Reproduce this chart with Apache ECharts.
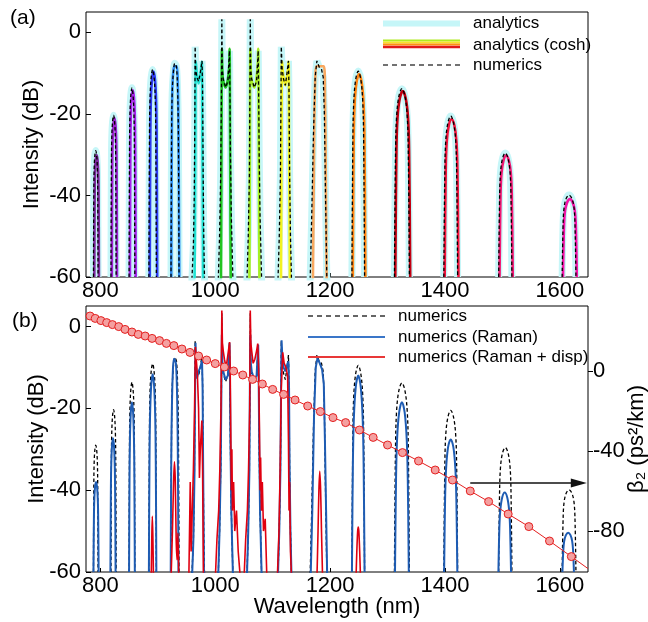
<!DOCTYPE html>
<html><head><meta charset="utf-8">
<script src="https://cdn.jsdelivr.net/npm/echarts@6/dist/echarts.min.js"></script>
<style>html,body{margin:0;padding:0;background:#fff}#c{width:648px;height:622px}</style>
</head><body><div id="c"></div>
<script>
// ---------- tick labels ----------
const xTicks = [800, 1000, 1200, 1400, 1600];
const dbTicks = [-60, -40, -20, 0];
const betaTicks = [-80, -40, 0];

// ---------- (a)/(b) numerics (dashed black), one array per pulse: [wavelength nm, dB] ----------
const numerics = [
  [[788,-60],[788.6,-38.9],[789.2,-33.3],[790.4,-30.2],[792,-29],[793.6,-30.2],[794.8,-33.3],[795.4,-38.9],[796,-60]],
  [[818.5,-60],[819.2,-33],[819.85,-25.9],[821.2,-21.9],[823,-20.3],[824.8,-21.9],[826.15,-25.9],[826.8,-33],[827.5,-60]],
  [[850,-60],[850.75,-28.4],[851.5,-20.1],[853,-15.5],[855,-13.6],[857,-15.5],[858.5,-20.1],[859.25,-28.4],[860,-60]],
  [[884.5,-60],[885.5,-25.4],[886.45,-16.2],[888.4,-11.1],[891,-9.1],[893.6,-11.1],[895.55,-16.2],[896.5,-25.4],[897.5,-60]],
  [[923,-60],[924,-24.4],[925.1,-14.9],[927.2,-9.7],[929.5,-7.6],[932.5,-8.5],[934.6,-14.9],[935.8,-24.4],[937,-60]],
  [[959,-62],[962,-52],[963.5,-40],[964.5,-20],[965,-3.5],[966,-9],[968,-11],[971,-12],[974,-10],[977,-7],[978,-14],[979,-35],[980,-50],[981.5,-62]],
  [[1005,-62],[1007.5,-50],[1009.5,-35],[1010.8,-15],[1011.5,3.2],[1012.3,-9],[1014,-11.5],[1018,-13.5],[1022,-12],[1024.8,-4.5],[1025.6,-15],[1026.5,-30],[1028,-45],[1031,-62]],
  [[1055,-62],[1057.5,-50],[1059.5,-35],[1060.3,-15],[1061,3.2],[1061.8,-9],[1063.5,-11.5],[1068,-13.5],[1072,-12],[1074.8,-4.5],[1075.6,-15],[1076.5,-30],[1078,-45],[1081,-62]],
  [[1109,-62],[1111.5,-50],[1113.5,-35],[1114.5,-15],[1115,-3.5],[1116.5,-9],[1119,-11.5],[1122,-13],[1125,-10],[1127.5,-7],[1128.5,-15],[1129.5,-35],[1131,-50],[1133,-62]],
  [[1165,-62],[1168,-45],[1171,-25],[1174,-11],[1177,-7],[1181,-8.5],[1185,-9],[1188,-11],[1190,-20],[1192,-40],[1194.5,-62]],
  [[1238,-60],[1239.65,-25.7],[1241.3,-16.6],[1244.6,-11.5],[1249,-9.5],[1253.4,-11.5],[1256.7,-16.6],[1258.35,-25.7],[1260,-60]],
  [[1312,-60],[1313.95,-28.6],[1315.9,-20.3],[1319.8,-15.6],[1325,-13.8],[1330.2,-15.6],[1334.1,-20.3],[1336.05,-28.6],[1338,-60]],
  [[1398,-60],[1399.8,-33.1],[1401.6,-26],[1405.2,-22.1],[1410,-20.5],[1414.8,-22.1],[1418.4,-26],[1420.2,-33.1],[1422,-60]],
  [[1493.5,-60],[1495.2,-39.3],[1496.95,-33.9],[1500.4,-30.8],[1505,-29.6],[1509.6,-30.8],[1513.05,-33.9],[1514.8,-39.3],[1516.5,-60]],
  [[1604,-60],[1605.8,-46.3],[1607.6,-42.7],[1611.2,-40.7],[1616,-39.9],[1620.8,-40.7],[1624.4,-42.7],[1626.2,-46.3],[1628,-60]]
];

// ---------- (a) analytics (cosh), coloured, one array per pulse ----------
const cosh = [
  [[789.5,-60],[790.1,-39.7],[790.7,-34.3],[791.9,-31.3],[793.5,-30.1],[795.1,-31.3],[796.3,-34.3],[796.9,-39.7],[797.5,-60]],
  [[820,-60],[820.7,-33.5],[821.35,-26.5],[822.7,-22.6],[824.5,-21],[826.3,-22.6],[827.65,-26.5],[828.3,-33.5],[829,-60]],
  [[851.5,-60],[852.25,-28.9],[853,-20.6],[854.5,-16],[856.5,-14.2],[858.5,-16],[860,-20.6],[860.75,-28.9],[861.5,-60]],
  [[886,-60],[887,-25.7],[887.95,-16.7],[889.9,-11.6],[892.5,-9.6],[895.1,-11.6],[897.05,-16.7],[898,-25.7],[899,-60]],
  [[923.5,-60],[924.5,-25],[925.5,-13],[927.5,-9],[930,-8.3],[933,-8.3],[934.8,-12],[936,-24],[937.5,-60]],
  [[964,-62],[965.5,-25],[966.2,-7.2],[968,-10],[971,-12.5],[974.5,-10],[976.7,-7.2],[977.5,-25],[979,-62]],
  [[1010,-62],[1011,-25],[1011.7,-4],[1013,-11],[1018,-13.5],[1024,-9],[1025,-4],[1025.8,-25],[1027,-62]],
  [[1059.5,-62],[1060.5,-25],[1061.2,-4],[1062.5,-11],[1068,-13.5],[1073.5,-9],[1074.8,-4],[1075.6,-25],[1077,-62]],
  [[1114.5,-62],[1115.5,-25],[1116.3,-7.2],[1118,-10],[1122,-13],[1126,-10],[1127.7,-7.2],[1128.5,-25],[1130,-62]],
  [[1170,-62],[1172,-30],[1174,-12],[1177,-8.3],[1183,-8.3],[1189,-8.3],[1191,-14],[1192.5,-35],[1194,-62]],
  [[1239.5,-60],[1241.15,-26.1],[1242.8,-17.2],[1246.1,-12.2],[1250.5,-10.2],[1254.9,-12.2],[1258.2,-17.2],[1259.85,-26.1],[1261.5,-60]],
  [[1313.5,-60],[1315.45,-29],[1317.4,-20.8],[1321.3,-16.2],[1326.5,-14.4],[1331.7,-16.2],[1335.6,-20.8],[1337.55,-29],[1339.5,-60]],
  [[1399.5,-60],[1401.3,-33.7],[1403.1,-26.7],[1406.7,-22.8],[1411.5,-21.3],[1416.3,-22.8],[1419.9,-26.7],[1421.7,-33.7],[1423.5,-60]],
  [[1495,-60],[1496.7,-39.7],[1498.45,-34.4],[1501.9,-31.4],[1506.5,-30.2],[1511.1,-31.4],[1514.55,-34.4],[1516.3,-39.7],[1518,-60]],
  [[1605.5,-60],[1607.3,-47],[1609.1,-43.6],[1612.7,-41.7],[1617.5,-40.9],[1622.3,-41.7],[1625.9,-43.6],[1627.7,-47],[1629.5,-60]]
];
const coshColors = ['#7d2a9e','#9b22cf','#a824ea','#2f3df2','#2f8ff2','#22e2d2','#22c422','#a6ee22','#f2f222',
                    '#f8a860','#ff8412','#c40012','#f0143c','#f21a74','#f414a8'];

// ---------- (b) numerics (Raman), blue ----------
const raman = [
  [[788,-60],[788.7,-47.9],[789.35,-42.8],[790.7,-39.3],[792.5,-38],[794.3,-39.3],[795.65,-42.8],[796.3,-47.9],[797,-60]],
  [[817.5,-60],[818.2,-42],[818.85,-34.5],[820.2,-29.3],[822,-27.3],[823.8,-29.3],[825.15,-34.5],[825.8,-42],[826.5,-60]],
  [[850,-60],[850.75,-37.2],[851.5,-27.6],[853,-21],[855,-18.5],[857,-21],[858.5,-27.6],[859.25,-37.2],[860,-60]],
  [[884.5,-60],[885.5,-33.4],[886.45,-22.3],[888.4,-14.6],[891,-11.7],[893.6,-14.6],[895.55,-22.3],[896.5,-33.4],[897.5,-60]],
  [[922.5,-60],[923.5,-31.3],[924.6,-19.4],[926.5,-10],[928.5,-7.9],[931.5,-9],[933.6,-17],[934.8,-30],[936,-60]],
  [[959.5,-62],[962,-52],[964,-35],[965,-15],[965.7,-4],[966.7,-10],[968,-12.7],[971,-11],[974,-10],[977,-8.3],[978,-15],[979,-35],[980.5,-62]],
  [[1005,-62],[1007.5,-50],[1009.5,-35],[1010.8,-15],[1011.5,-2],[1012.5,-9],[1014,-11],[1018,-13],[1022,-12],[1024.8,-4],[1025.6,-12],[1026.5,-28],[1028,-45],[1031,-62]],
  [[1055,-62],[1057.5,-50],[1059.5,-35],[1060.3,-15],[1061,-2],[1062,-9],[1063.5,-11],[1068,-13],[1072,-12],[1074.8,-4.5],[1075.6,-12],[1076.5,-28],[1078,-45],[1081,-62]],
  [[1109,-62],[1111.5,-50],[1113.5,-35],[1114.8,-12],[1115.5,-3.4],[1117,-8],[1119,-10],[1122,-11],[1125,-9.5],[1127.5,-8.5],[1128.5,-15],[1129.5,-35],[1131,-50],[1133,-62]],
  [[1166,-62],[1169,-45],[1172,-22],[1175,-10],[1178,-7.8],[1182,-9],[1186,-10.5],[1189,-14],[1191,-28],[1193,-45],[1195,-62]],
  [[1238,-60],[1239.65,-33.6],[1241.3,-22.6],[1244.6,-14.9],[1249,-12],[1253.4,-14.9],[1256.7,-22.6],[1258.35,-33.6],[1260,-60]],
  [[1313,-60],[1314.8,-37.2],[1316.6,-27.6],[1320.2,-21],[1325,-18.5],[1329.8,-21],[1333.4,-27.6],[1335.2,-37.2],[1337,-60]],
  [[1398.5,-60],[1400.2,-42.2],[1401.95,-34.7],[1405.4,-29.5],[1410,-27.6],[1414.6,-29.5],[1418.05,-34.7],[1419.8,-42.2],[1421.5,-60]],
  [[1493,-60],[1494.65,-49.3],[1496.3,-44.9],[1499.6,-41.8],[1504,-40.6],[1508.4,-41.8],[1511.7,-44.9],[1513.35,-49.3],[1515,-60]],
  [[1604.5,-60],[1606,-54.7],[1607.5,-52.5],[1610.5,-51],[1614.5,-50.4],[1618.5,-51],[1621.5,-52.5],[1623,-54.7],[1624.5,-60]]
];

// ---------- (b) numerics (Raman + disp), red ----------
const ramanDisp = [
  [[888.5,-62],[889.5,-52],[890.5,-46.4],[891.5,-52],[892.5,-62]],
  [[923,-62],[925.5,-50],[927.5,-38],[929,-33.1],[930.5,-38],[932,-52],[933.5,-57],[935,-50.5],[936.5,-62]],
  [[954,-62],[956.5,-38],[958,-55],[960,-45],[962,-35],[964,-20],[965.5,-5],[967,-8],[969,-12],[971,-20],[972.5,-37],[974,-30],[976.7,-23],[978,-35],[979.5,-62]],
  [[1000,-62],[1003,-52],[1006,-45],[1008,-35],[1010,-20],[1011.5,3.9],[1012.5,-4],[1014,-6],[1016,-8],[1019,-10],[1022,-7],[1025,-3.8],[1026,-10],[1027,-25],[1028,-40],[1029,-30],[1030,-45],[1032,-38],[1034,-50],[1037,-45],[1040,-55],[1044,-62]],
  [[1050,-62],[1053,-52],[1056,-45],[1058,-35],[1060,-20],[1061,3.9],[1062,-4],[1063.5,-6],[1066,-9],[1069,-8],[1072,-6],[1074,-4.2],[1075.5,-10],[1077,-25],[1078,-40],[1079,-32],[1080.5,-45],[1082,-38],[1084,-50],[1087,-47],[1090,-62]],
  [[1108,-62],[1111,-50],[1113,-35],[1115,-15],[1117.5,-6.3],[1120,-9],[1123,-10],[1126,-12],[1127.5,-28],[1128.5,-45],[1129.5,-38],[1131,-55],[1133,-62]],
  [[1177,-62],[1179,-50],[1180.5,-40],[1182,-35.4],[1183.5,-40],[1185,-50],[1187,-62]],
  [[1245,-62],[1246.5,-55],[1248,-50],[1249,-49],[1250,-50],[1251.5,-55],[1253,-62]]
];

// ---------- (b) beta2 dispersion (right axis) ----------
const beta2Wl  = [775, 782, 791, 801, 811, 821, 832, 843, 855, 866, 878, 890, 903, 915, 928, 942, 956, 971, 985, 1000,
                  1016, 1032, 1048, 1065, 1082, 1100, 1119, 1139, 1161, 1183, 1205, 1227, 1251, 1275, 1300, 1326,
                  1354, 1383, 1413, 1444, 1476, 1510, 1546, 1582, 1620, 1649];
const beta2Val = [28.3, 27.5, 26.3, 25.2, 24.2, 23.2, 22.2, 20.8, 19.5, 18.3, 17.5, 16.3, 15.2, 13.8, 12.7, 11.0, 9.3, 7.5, 5.5, 3.7,
                  2.0, 0, -2.0, -4.2, -6.5, -9.2, -11.7, -14.5, -17.5, -20.3, -23.3, -25.8, -29.5, -33.2, -37.0, -40.8,
                  -45.0, -49.5, -54.5, -60.0, -65.3, -71.5, -77.8, -85.0, -92.8, -98.8];
const arrowFrom = [1444, -56];
const arrowTo   = [1633, -56];

// ---------- chart ----------
const FONT = '"Liberation Sans", Arial, Helvetica, "DejaVu Sans", sans-serif';
const HALO = '#c6f6f8';
const DASH = [3.5, 2.5];
const plain = v => String(v);
const chart = echarts.init(document.getElementById('c'), null, {renderer: 'canvas'});

function xAx(gi, name) {
  return {
    type: 'value', gridIndex: gi, min: 775, max: 1649,
    axisLine: {show: false, onZero: false}, splitLine: {show: false},
    axisTick: {show: true, inside: true, length: 4, customValues: xTicks, lineStyle: {color: '#000'}},
    axisLabel: {customValues: xTicks, formatter: plain, fontSize: 22, fontFamily: FONT, color: '#000', margin: 3},
    name: name, nameLocation: 'middle', nameGap: 24, nameMoveOverlap: false,
    nameTextStyle: {fontSize: 22, fontFamily: FONT, color: '#000'}
  };
}
function yAx(gi, gap) {
  return {
    type: 'value', gridIndex: gi, min: -60, max: 5, position: 'left',
    axisLine: {show: false, onZero: false}, splitLine: {show: false},
    axisTick: {show: true, inside: true, length: 5, customValues: dbTicks, lineStyle: {color: '#000'}},
    axisLabel: {customValues: dbTicks, formatter: plain, fontSize: 22, fontFamily: FONT, color: '#000', margin: 5},
    name: 'Intensity (dB)', nameLocation: 'middle', nameGap: gap, nameRotate: 90, nameMoveOverlap: false,
    nameTextStyle: {fontSize: 22, fontFamily: FONT, color: '#000'}
  };
}

const series = [];
const smoothOf = arr => (arr.length > 9 ? false : 0.35);
numerics.forEach(p => series.push({type: 'line', xAxisIndex: 0, yAxisIndex: 0, data: p, symbol: 'none', smooth: smoothOf(p),
  lineStyle: {color: HALO, width: 7}, z: 1, silent: true}));
cosh.forEach((p, i) => series.push({type: 'line', xAxisIndex: 0, yAxisIndex: 0, data: p, symbol: 'none', smooth: smoothOf(p),
  lineStyle: {color: coshColors[i], width: 2.6}, z: 2, silent: true}));
numerics.forEach(p => series.push({type: 'line', xAxisIndex: 0, yAxisIndex: 0, data: p, symbol: 'none', smooth: smoothOf(p),
  lineStyle: {color: '#000', width: 1.3, type: DASH}, z: 3, silent: true}));

numerics.forEach(p => series.push({type: 'line', xAxisIndex: 1, yAxisIndex: 1, data: p, symbol: 'none', smooth: smoothOf(p),
  lineStyle: {color: '#000', width: 1.3, type: DASH}, z: 1, silent: true}));
raman.forEach(p => series.push({type: 'line', xAxisIndex: 1, yAxisIndex: 1, data: p, symbol: 'none', smooth: smoothOf(p),
  lineStyle: {color: '#1e5cb3', width: 2}, z: 2, silent: true}));
ramanDisp.forEach(p => series.push({type: 'line', xAxisIndex: 1, yAxisIndex: 1, data: p, symbol: 'none', smooth: smoothOf(p),
  lineStyle: {color: '#e00010', width: 1.6}, z: 3, silent: true}));

const betaData = beta2Wl.map((w, i) => {
  const item = {value: [w, beta2Val[i]]};
  if (i === 0 || i === beta2Wl.length - 1) item.symbol = 'none';
  return item;
});
series.push({type: 'line', xAxisIndex: 1, yAxisIndex: 2, data: betaData, symbol: 'circle', symbolSize: 8,
  lineStyle: {color: '#e42020', width: 1}, itemStyle: {color: '#f4a0a0', borderColor: '#e42020', borderWidth: 1},
  z: 4, silent: true,
  markLine: {silent: true, symbol: ['none', 'triangle'], symbolSize: [9, 16],
    lineStyle: {color: '#111', width: 1.5, type: 'solid'}, label: {show: false},
    data: [[{coord: arrowFrom}, {coord: arrowTo}]]}});

// legends drawn as graphics
const txt = (x, y, t, fs) => ({type: 'text', x: x, y: y, style: {text: t, fontSize: fs, fontFamily: FONT, fill: '#000', verticalAlign: 'middle', align: 'left'}, z: 100});
const ln = (x1, x2, y, c, w, dash) => ({type: 'line', shape: {x1: x1, y1: y, x2: x2, y2: y}, style: {stroke: c, lineWidth: w, lineDash: dash || null}, z: 100});

const graphic = [
  txt(10, 18, '(a)', 21),
  txt(12, 321, '(b)', 21),
  ln(383, 460, 23.5, HALO, 6), txt(473, 23, 'analytics', 17),
  ln(383, 460, 40.5, '#b0ea20', 2), ln(383, 460, 42.5, '#f6e22a', 2), ln(383, 460, 44.5, '#ff9010', 2), ln(383, 460, 47, '#e01818', 2.5),
  txt(473, 45, 'analytics (cosh)', 17),
  ln(383, 460, 65, '#444', 1.3, [5, 4]), txt(473, 65, 'numerics', 17),
  ln(308, 385, 316, '#333', 1.3, [5, 4]), txt(398, 316, 'numerics', 17),
  ln(308, 385, 337, '#3a76c8', 2), txt(398, 337, 'numerics (Raman)', 17),
  ln(308, 385, 357, '#e83838', 2), txt(398, 357, 'numerics (Raman + disp)', 17)
];

chart.setOption({
  animation: false,
  backgroundColor: '#fff',
  grid: [
    {left: 86, top: 12, width: 502, height: 265, show: true, borderColor: '#000', borderWidth: 1, backgroundColor: 'transparent', containLabel: false, outerBoundsMode: 'none'},
    {left: 86, top: 306, width: 502, height: 266, show: true, borderColor: '#000', borderWidth: 1, backgroundColor: 'transparent', containLabel: false, outerBoundsMode: 'none'}
  ],
  xAxis: [xAx(0, ''), xAx(1, 'Wavelength (nm)')],
  yAxis: [
    yAx(0, 43), yAx(1, 38),
    {type: 'value', gridIndex: 1, position: 'right', min: -100.5, max: 32.5,
     axisLine: {show: false, onZero: false}, splitLine: {show: false},
     axisTick: {show: true, inside: false, length: 5, customValues: betaTicks, lineStyle: {color: '#000'}},
     axisLabel: {customValues: betaTicks, formatter: plain, fontSize: 22, fontFamily: FONT, color: '#000', margin: 5},
     name: 'β₂ (ps²/km)', nameLocation: 'middle', nameGap: 38, nameRotate: 90, nameMoveOverlap: false,
     nameTextStyle: {fontSize: 22, fontFamily: FONT, color: '#000'}}
  ],
  graphic: graphic,
  series: series
});
</script>
</body></html>
